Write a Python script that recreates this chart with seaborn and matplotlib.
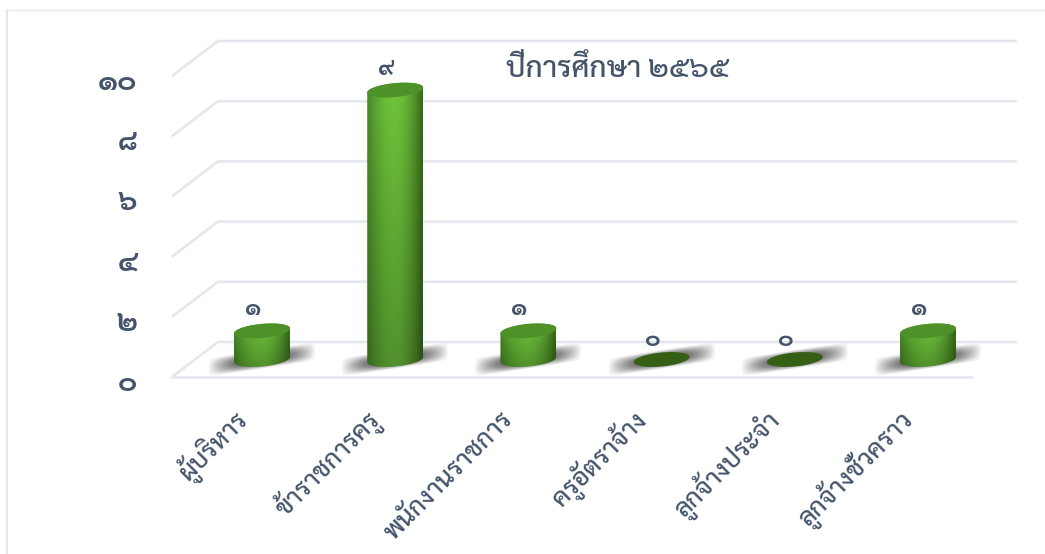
import matplotlib
matplotlib.use('Agg')
import matplotlib.pyplot as plt
from matplotlib.lines import Line2D
from matplotlib.patches import Polygon
from matplotlib.transforms import ScaledTranslation
import numpy as np
import pandas as pd
import seaborn as sns

categorias = ['ผู้บริหาร', 'ข้าราชการครู', 'พนักงานราชการ', 'ครูอัตราจ้าง', 'ลูกจ้างประจำ', 'ลูกจ้างชั่วคราว']
valores = [1, 9, 1, 0, 0, 1]
rotulos = ['๑', '๙', '๑', '๐', '๐', '๑']
yticks = [0, 2, 4, 6, 8, 10]
ytick_labels = ['๐', '๒', '๔', '๖', '๘', '๑๐']
titulo = 'ปีการศึกษา ๒๕๖๕'

COR_TEXTO = '#44546A'
COR_GRADE = '#E4E7EE'
W, H = 1045, 554

# pixels per data unit, and the fake 3D depth of the floor
PX_X, PX_Y = 133.2, 30.1
DX, DY = 23 / PX_X, 17.5 / PX_Y
XMIN, XMAX = -90 / PX_X, 755 / PX_X
YMIN, YMAX = -17.5 / PX_Y, 318.5 / PX_Y

sns.set_theme(style='white')
plt.rcParams['font.family'] = ['Sarabun', 'DejaVu Sans']

df = pd.DataFrame({'cargo': categorias, 'total': valores})

fig = plt.figure(figsize=(W / 100, H / 100), dpi=100)
ax = fig.add_axes([172 / W, 1 - 377 / H, 845 / W, 336 / H])

# back wall, side wall and floor lines
for v in yticks:
    ax.plot([XMIN, XMIN + 2 * DX, XMAX], [v - DY, v + DY, v + DY],
            color=COR_GRADE, lw=1.9, clip_on=False, zorder=1, solid_capstyle='butt')
ax.plot([XMIN, 710 / PX_X], [-DY, -DY], color=COR_GRADE, lw=1.9, clip_on=False, zorder=1)

sns.barplot(data=df, x='cargo', y='total', color='#5DA832', width=0.42, ax=ax, zorder=3)


def elipse(cx, v, meia, t):
    # tilted ellipse: right side a bit higher than the left one
    return cx + meia * np.cos(t), v + (7 / PX_Y) * np.sin(t) + (2.5 / PX_Y) * np.cos(t)


def sombra(cx):
    xs = np.linspace(-56, 56, 160)
    ys = np.linspace(-20, 20, 80)
    gx, gy = np.meshgrid(xs, ys)
    u = gx / 54
    w = (gy - 0.15 * gx) / 9.5
    alpha = np.clip(1 - u ** 2, 0, 1) ** 0.9 * np.clip(1 - w ** 2, 0, 1) ** 1.1 * 0.7
    img = np.zeros(gx.shape + (4,))
    img[..., 3] = alpha
    ax.imshow(img, origin='lower', aspect='auto', zorder=2, interpolation='bilinear',
              extent=[cx - 56 / PX_X, cx + 56 / PX_X, -20 / PX_Y, 20 / PX_Y])


def gradiente():
    u = np.linspace(-1, 1, 140)
    perfil = np.clip(1 - np.abs(u + 0.02) ** 1.9, 0, 1)[None, :, None]
    canto = np.where(u < 0, 0, 1)[None, :, None]
    esq = np.array([0x46, 0x86, 0x24]) / 255
    dir_ = np.array([0x38, 0x6B, 0x1A]) / 255
    centro = np.array([0x6F, 0xC4, 0x3C]) / 255
    borda = esq * (1 - canto) + dir_ * canto
    img = borda + (centro - borda) * perfil
    vert = np.linspace(0.74, 1.0, 80)[:, None, None]
    return np.clip(img * vert, 0, 1)


t = np.linspace(0, 2 * np.pi, 120)
arco_frente = np.linspace(np.pi, 2 * np.pi, 60)
arco_fundo = np.linspace(0, np.pi, 60)
img_cil = gradiente()

for barra in ax.patches:
    cx = barra.get_x() + barra.get_width() / 2
    meia = barra.get_width() / 2
    v = barra.get_height()
    sombra(cx)
    barra.set_visible(False)
    if v == 0:
        ex, ey = elipse(cx, v, meia, t)
        ax.add_patch(Polygon(np.c_[ex, ey], closed=True, fc='#345F14', ec='none', zorder=4))
        continue
    topo = v - 1.5 / PX_Y
    bx, by = elipse(cx, 0, meia, arco_frente)
    tx, ty = elipse(cx, topo, meia, arco_fundo)
    corpo = Polygon(np.r_[np.c_[bx, by], np.c_[tx, ty]], closed=True, fc='none', ec='none',
                    transform=ax.transData)
    ax.add_patch(corpo)
    im = ax.imshow(img_cil, origin='lower', aspect='auto', zorder=3.5, interpolation='bilinear',
                   extent=[cx - meia, cx + meia, by.min(), ty.max()])
    im.set_clip_path(corpo)
    ex, ey = elipse(cx, topo, meia, t)
    ax.add_patch(Polygon(np.c_[ex, ey], closed=True, fc='#4F9129', ec='none', zorder=4))

for i, v in enumerate(valores):
    ax.annotate(rotulos[i], (i, v), xytext=(-9 * 0.72, 20 * 0.72), textcoords='offset points',
                ha='center', va='center', fontsize=17, color=COR_TEXTO, fontweight='bold',
                annotation_clip=False, zorder=5)

ax.set_xlim(XMIN, XMAX)
ax.set_ylim(YMIN, YMAX)
ax.set_xlabel('')
ax.set_ylabel('')

ax.set_yticks(np.array(yticks) - DY)
ax.set_yticklabels(ytick_labels, fontsize=21, color=COR_TEXTO, fontweight='bold')
ax.set_xticks(range(len(categorias)))
ax.set_xticklabels(categorias, fontsize=18.3, color=COR_TEXTO, rotation=45, ha='right',
                   rotation_mode='anchor', va='center', fontweight='medium')
ax.tick_params(axis='both', length=0)
ax.tick_params(axis='y', pad=25)
ax.tick_params(axis='x', pad=28)
for lab in ax.get_yticklabels():
    lab.set_transform(lab.get_transform() + ScaledTranslation(0, -3 / 100, fig.dpi_scale_trans))
for lab in ax.get_xticklabels():
    lab.set_transform(lab.get_transform() + ScaledTranslation(-19 / 100, 0, fig.dpi_scale_trans))
sns.despine(ax=ax, left=True, bottom=True)
ax.patch.set_alpha(0)

fig.suptitle(titulo, x=617 / W, y=1 - 69 / H, ha='center', va='center', fontsize=21.2,
             color=COR_TEXTO, fontweight='medium')

# chart frame, only top and left show in the picture
fig.add_artist(Line2D([7 / W, 7 / W], [0, 1 - 10 / H], transform=fig.transFigure, color='#E3E6EF', lw=1.6))
fig.add_artist(Line2D([7 / W, 1], [1 - 10 / H, 1 - 10 / H], transform=fig.transFigure, color='#E3E6EF', lw=1.0))

fig.savefig('out.png', dpi=100)
